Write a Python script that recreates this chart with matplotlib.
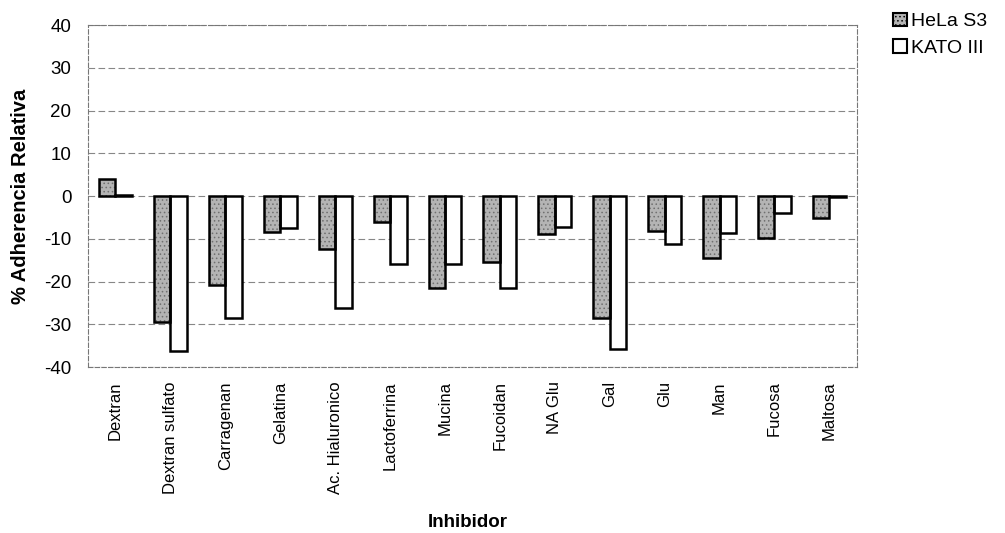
import numpy as np
import matplotlib
matplotlib.use("Agg")
import matplotlib.pyplot as plt
from matplotlib.patches import Patch

plt.rcParams['font.family'] = ['Liberation Sans', 'DejaVu Sans']
plt.rcParams['axes.unicode_minus'] = False
plt.rcParams['hatch.linewidth'] = 0.6

inhibidores = ["Dextran", "Dextran sulfato", "Carragenan", "Gelatina", "Ac. Hialuronico",
               "Lactoferrina", "Mucina", "Fucoidan", "NA Glu", "Gal", "Glu", "Man",
               "Fucosa", "Maltosa"]
hela = [4.0, -29.5, -20.8, -8.4, -12.3, -6.1, -21.5, -15.5, -8.8, -28.5, -8.2, -14.5, -9.8, -5.1]
kato = [0.2, -36.2, -28.4, -7.4, -26.2, -15.9, -15.9, -21.5, -7.2, -35.8, -11.3, -8.6, -3.9, -0.3]

x = np.arange(len(inhibidores))
w = 0.3

fig = plt.figure(figsize=(10.05, 5.33), dpi=100)
ax = fig.add_axes([0.0876, 0.311, 0.765, 0.642])

# stippled grey fill, then black outline
ax.bar(x - w / 2, hela, w, color='#b4b4b4', edgecolor='#707070', linewidth=0,
       hatch='....', zorder=3)
ax.bar(x - w / 2, hela, w, fill=False, edgecolor='black', linewidth=1.8, zorder=4)
ax.bar(x + w / 2, kato, w, color='white', edgecolor='black', linewidth=1.8, zorder=3)

ax.set_xlim(-0.5, len(inhibidores) - 0.5)
ax.set_ylim(-40, 40)
ax.set_yticks(range(-40, 41, 10))
ax.set_xticks(x)
ax.set_xticklabels(inhibidores, rotation=90, fontsize=12)
ax.tick_params(axis='y', labelsize=13.5, length=0, pad=12)
ax.tick_params(axis='x', length=0, pad=10)
ax.grid(axis='y', color='#555555', linestyle=(0, (6, 3)), linewidth=0.8, alpha=0.7, zorder=0)
for s in ax.spines.values():
    s.set_color('#777777')
    s.set_linestyle((0, (4, 2)))
    s.set_linewidth(0.8)

ax.set_ylabel("% Adherencia Relativa", fontsize=14.5, fontweight='bold', labelpad=10)
fig.text(0.465, 0.012, "Inhibidor", fontsize=13.5, fontweight='bold', ha='center')

handles = [Patch(facecolor='#b4b4b4', edgecolor='black', hatch='....', linewidth=1.5),
           Patch(facecolor='white', edgecolor='black', linewidth=1.5)]
ax.legend(handles, ['HeLa S3', 'KATO III'], loc='upper left', bbox_to_anchor=(1.035, 1.065),
          frameon=False, fontsize=14, handlelength=0.7, handleheight=0.7,
          handletextpad=0.2, labelspacing=0.45, borderpad=0)

fig.savefig("out.png", dpi=100)
